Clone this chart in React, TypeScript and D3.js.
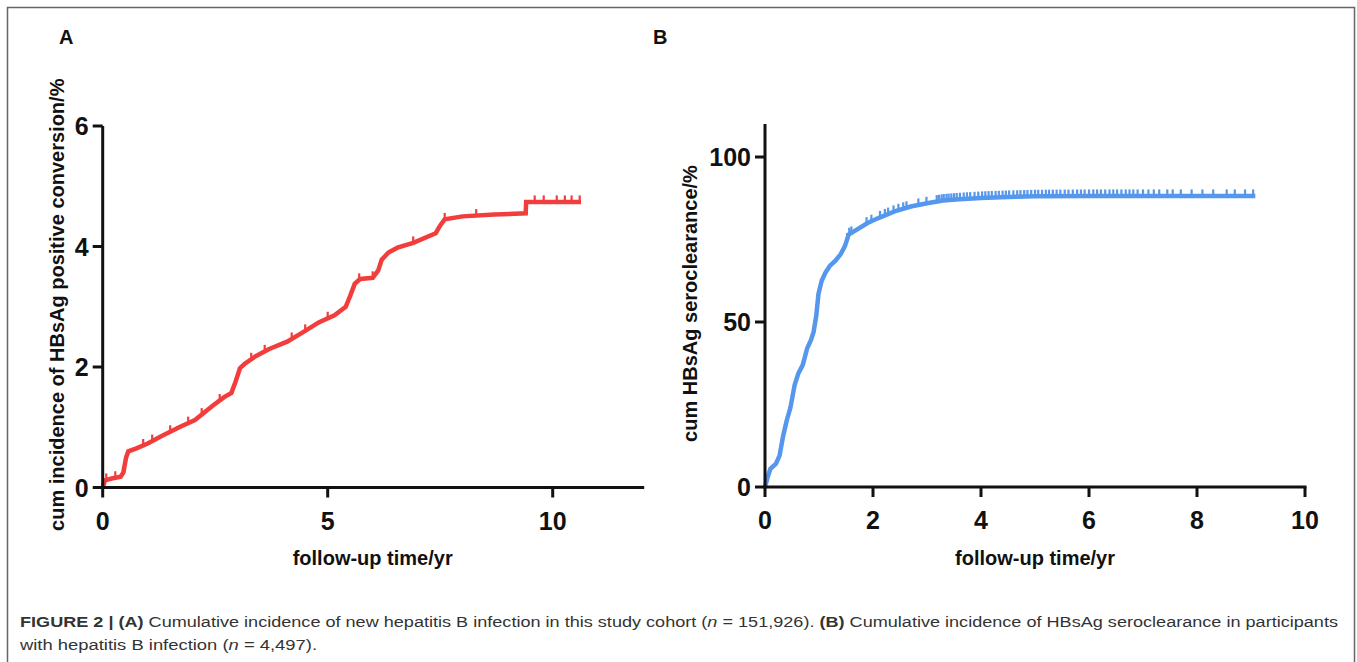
import React from "react";
import * as d3 from "d3";

// ---- Panel A data: cumulative incidence of HBsAg positive conversion (%) ----
const timeA = [0, 0.05, 0.2, 0.4, 0.46, 0.52, 0.57, 0.75, 1.0, 1.3, 1.7, 2.05, 2.45, 2.7, 2.86, 2.95, 3.05, 3.15, 3.4, 3.7, 4.1, 4.5, 4.8, 5.15, 5.4, 5.5, 5.6, 5.72, 6.0, 6.12, 6.2, 6.35, 6.55, 6.9, 7.4, 7.5, 7.6, 8.0, 8.7, 9.4, 9.41, 10.63];
const cumA = [0, 0.12, 0.15, 0.18, 0.25, 0.5, 0.6, 0.65, 0.73, 0.85, 1.0, 1.12, 1.36, 1.5, 1.57, 1.75, 1.98, 2.05, 2.18, 2.3, 2.42, 2.6, 2.74, 2.86, 3.0, 3.18, 3.38, 3.46, 3.48, 3.6, 3.78, 3.9, 3.98, 4.06, 4.22, 4.35, 4.45, 4.5, 4.53, 4.55, 4.74, 4.74];
const censorA = [0.08, 0.28, 0.45, 0.9, 1.1, 1.5, 1.9, 2.2, 2.6, 3.3, 3.6, 4.2, 4.5, 5.0, 5.7, 6.0, 6.9, 7.6, 8.3, 9.6, 9.8, 10.09, 10.27, 10.42, 10.6];
const xTicksA = [0, 5, 10];
const yTicksA = [0, 2, 4, 6];

// ---- Panel B data: cumulative HBsAg seroclearance (%) ----
const timeB = [0, 0.05, 0.1, 0.2, 0.27, 0.33, 0.4, 0.47, 0.55, 0.62, 0.7, 0.78, 0.85, 0.9, 0.95, 0.99, 1.05, 1.12, 1.2, 1.3, 1.4, 1.48, 1.55, 1.7, 1.9, 2.1, 2.4, 2.7, 3.0, 3.3, 3.6, 4.0, 4.5, 5.0, 6.0, 7.0, 9.08];
const cumB = [0, 3, 5.5, 7, 9.5, 15, 20, 24, 31, 34.5, 37, 42, 44.5, 47, 52, 58.5, 62.5, 65, 67, 68.5, 70.5, 73, 76.5, 78, 80, 81.5, 83.5, 85, 86, 86.8, 87.2, 87.6, 87.9, 88.1, 88.2, 88.2, 88.2];
const censorB = [1.52, 1.56, 1.6, 1.88, 1.97, 2.13, 2.22, 2.28, 2.38, 2.47, 2.56, 2.62, 2.84, 2.99, 3.18, 3.22, 3.27, 3.31, 3.36, 3.4, 3.45, 3.5, 3.55, 3.61, 3.68, 3.74, 3.8, 3.88, 3.95, 4.02, 4.08, 4.14, 4.2, 4.27, 4.33, 4.4, 4.46, 4.52, 4.6, 4.67, 4.73, 4.8, 4.86, 4.93, 5.0, 5.06, 5.13, 5.2, 5.26, 5.33, 5.4, 5.47, 5.55, 5.62, 5.7, 5.78, 5.85, 5.92, 6.0, 6.08, 6.15, 6.22, 6.3, 6.38, 6.45, 6.52, 6.6, 6.68, 6.75, 6.82, 6.9, 7.0, 7.1, 7.2, 7.3, 7.45, 7.55, 7.7, 7.9, 8.1, 8.3, 8.55, 8.7, 8.89, 9.04];
const xTicksB = [0, 2, 4, 6, 8, 10];
const yTicksB = [0, 50, 100];

const RED = "#f23d3d";
const BLUE = "#5597ec";
const FONT = "'Liberation Sans', Arial, Helvetica, sans-serif";

function valueAt(times: number[], vals: number[], t: number) {
  const interp = d3.scaleLinear().domain(times).range(vals).clamp(true);
  return interp(t);
}

type PanelProps = {
  x: d3.ScaleLinear<number, number>;
  y: d3.ScaleLinear<number, number>;
  xTicks: number[];
  yTicks: number[];
  times: number[];
  vals: number[];
  censor: number[];
  color: string;
  yLabel: string;
  yLabelX: number;
  letter: string;
  letterX: number;
};

function Panel(p: PanelProps) {
  const [x0, x1] = p.x.range();
  const [y0, y1] = p.y.range();
  const line = d3
    .line<number>()
    .x((_, i) => p.x(p.times[i]))
    .y((d) => p.y(d));
  const tickLen = 10;
  return (
    <g>
      <text x={p.letterX} y={44} fontFamily={FONT} fontWeight="bold" fontSize={20} fill="#111">
        {p.letter}
      </text>
      {/* data line */}
      <path d={line(p.vals) || ""} fill="none" stroke={p.color} strokeWidth={4.5} strokeLinejoin="miter" />
      {p.censor.map((t, i) => {
        const cx = p.x(t);
        const cy = p.y(valueAt(p.times, p.vals, t));
        return <line key={i} x1={cx} x2={cx} y1={cy} y2={cy - 6.5} stroke={p.color} strokeWidth={2.2} />;
      })}
      {/* axes */}
      <line x1={x0} x2={x0} y1={y0 + 1.5} y2={y1} stroke="#111" strokeWidth={3} />
      <line x1={x0 - 1.5} x2={x1 + 1.5} y1={y0} y2={y0} stroke="#111" strokeWidth={3} />
      {p.yTicks.map((v) => (
        <g key={"y" + v}>
          <line x1={x0 - tickLen} x2={x0} y1={p.y(v)} y2={p.y(v)} stroke="#111" strokeWidth={3} />
          <text x={x0 - tickLen - 4} y={p.y(v) + 9} textAnchor="end" fontFamily={FONT} fontWeight="bold" fontSize={25} fill="#111">
            {v}
          </text>
        </g>
      ))}
      {p.xTicks.map((v) => (
        <g key={"x" + v}>
          <line x1={p.x(v)} x2={p.x(v)} y1={y0} y2={y0 + tickLen} stroke="#111" strokeWidth={3} />
          <text x={p.x(v)} y={y0 + 42} textAnchor="middle" fontFamily={FONT} fontWeight="bold" fontSize={25} fill="#111">
            {v}
          </text>
        </g>
      ))}
      <text x={(x0 + x1) / 2} y={565} textAnchor="middle" fontFamily={FONT} fontWeight="bold" fontSize={20} fill="#111">
        follow-up time/yr
      </text>
      <text
        transform={`translate(${p.yLabelX},${(y0 + y1) / 2 - 2}) rotate(-90)`}
        textAnchor="middle"
        fontFamily={FONT}
        fontWeight="bold"
        fontSize={20}
        fill="#111"
      >
        {p.yLabel}
      </text>
    </g>
  );
}

export default function App() {
  const xA = d3.scaleLinear().domain([0, 12]).range([102.7, 642.7]);
  const yA = d3.scaleLinear().domain([0, 6]).range([487.5, 126]);
  const xB = d3.scaleLinear().domain([0, 10]).range([765, 1305]);
  const yB = d3.scaleLinear().domain([0, 110]).range([487, 124]);
  return (
    <svg width={1357} height={662} style={{ position: "absolute", left: 0, top: 0, background: "#fff" }}>
      <rect x={0} y={0} width={1357} height={662} fill="#fff" />
      <rect x={7.5} y={7.5} width={1347} height={700} fill="none" stroke="#666" strokeWidth={1.5} />
      <Panel x={xA} y={yA} xTicks={xTicksA} yTicks={yTicksA} times={timeA} vals={cumA} censor={censorA} color={RED}
        yLabel="cum incidence of HBsAg positive conversion/%" yLabelX={64} letter="A" letterX={59} />
      <Panel x={xB} y={yB} xTicks={xTicksB} yTicks={yTicksB} times={timeB} vals={cumB} censor={censorB} color={BLUE}
        yLabel="cum HBsAg seroclearance/%" yLabelX={697} letter="B" letterX={653} />
      <text x={20} y={627} fontFamily={FONT} fontSize={15.5} fill="#333" textLength={1318} lengthAdjust="spacingAndGlyphs">
        <tspan fontWeight="bold">FIGURE 2 | (A)</tspan>
        <tspan> Cumulative incidence of new hepatitis B infection in this study cohort (</tspan>
        <tspan fontStyle="italic">n</tspan>
        <tspan> = 151,926). </tspan>
        <tspan fontWeight="bold">(B)</tspan>
        <tspan> Cumulative incidence of HBsAg seroclearance in participants</tspan>
      </text>
      <text x={20} y={650} fontFamily={FONT} fontSize={15.5} fill="#333" textLength={297} lengthAdjust="spacingAndGlyphs">
        <tspan>with hepatitis B infection (</tspan>
        <tspan fontStyle="italic">n</tspan>
        <tspan> = 4,497).</tspan>
      </text>
    </svg>
  );
}
